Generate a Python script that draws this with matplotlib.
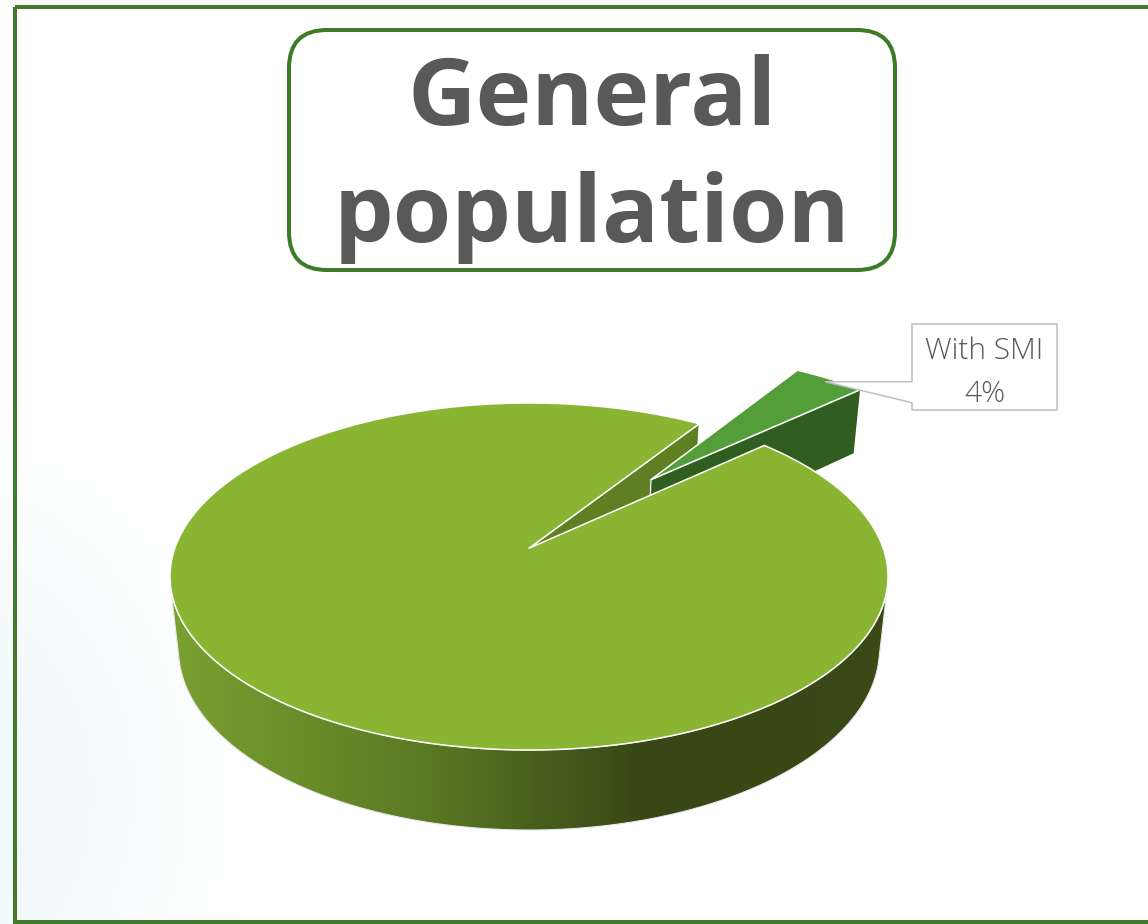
import numpy as np
import matplotlib
matplotlib.use("Agg")
import matplotlib.pyplot as plt
from matplotlib.patches import Polygon, FancyBboxPatch, Rectangle

# ---- data -------------------------------------------------------------
categories = ["Without SMI", "With SMI"]
shares = [96, 4]
explode = [0.0, 0.57]
label_lines = ["With SMI", "4%"]
title_lines = ["General", "population"]

# ---- colours ----------------------------------------------------------
top_colors = ["#8AB532", "#549E3A"]
cut_colors = ["#5F7F22", "#305E20"]
frame_green = "#437A2B"
text_grey = "#595959"

W, H = 1148, 924
fig = plt.figure(figsize=(W / 100, H / 100), dpi=100)
ax = fig.add_axes([0, 0, 1, 1])
ax.set_xlim(0, W)
ax.set_ylim(H, 0)
ax.axis("off")

# soft pale haze in the lower-left corner
yy, xx = np.mgrid[0:H, 0:W]
d = np.hypot((xx + 60) / 1.0, (yy - 790) / 1.25)
alpha = 0.75 * np.clip(1 - d / 320.0, 0, 1) ** 1.2
haze = np.zeros((H, W, 4))
haze[..., :3] = np.array([230, 243, 247]) / 255.0
haze[..., 3] = alpha
ax.imshow(haze, extent=(0, W, H, 0), zorder=0, interpolation="bilinear")

# ---- 3-D pie projection ----------------------------------------------
phi = np.radians(30)
cphi, sphi = np.cos(phi), np.sin(phi)
Dist = 6.14 * cphi


def proj(u, v, z):
    depth = Dist + v * cphi - z * sphi
    return u / depth, (v * sphi + z * cphi) / depth


th = np.linspace(0, 2 * np.pi, 4000)
Xr, Yr = proj(np.cos(th), np.sin(th), 0.0)
X0, X1, Y0, Y1 = Xr.min(), Xr.max(), Yr.min(), Yr.max()
px_left, px_right, px_top, px_bottom = 170.0, 888.0, 403.0, 750.0


def P(u, v, z):
    X, Y = proj(np.asarray(u, float), np.asarray(v, float), z)
    px = px_left + (X - X0) / (X1 - X0) * (px_right - px_left)
    py = px_bottom - (Y - Y0) / (Y1 - Y0) * (px_bottom - px_top)
    return px, py


# pie thickness: front rim drops to y = 830
lo, hi = 0.0, 2.0
for _ in range(60):
    mid = 0.5 * (lo + hi)
    if P(0.0, -1.0, -mid)[1] < 830:
        lo = mid
    else:
        hi = mid
h = 0.5 * (lo + hi)

spans = 360.0 * np.array(shares) / sum(shares)
start_smi = 42.5
angles = {
    1: (start_smi, start_smi + spans[1]),
    0: (start_smi + spans[1], start_smi + 360.0),
}
offsets = {}
for i in (0, 1):
    a0, a1 = angles[i]
    m = np.radians(0.5 * (a0 + a1))
    offsets[i] = (explode[i] * np.cos(m), explode[i] * np.sin(m))


def arc(i, z, a0=None, a1=None, n=500):
    A0, A1 = angles[i]
    a0 = A0 if a0 is None else a0
    a1 = A1 if a1 is None else a1
    t = np.radians(np.linspace(a0, a1, n))
    tu, tv = offsets[i]
    return P(tu + np.cos(t), tv + np.sin(t), z)


def cut_face(i, ang):
    tu, tv = offsets[i]
    a = np.radians(ang)
    pts = [P(tu, tv, 0.0), P(tu + np.cos(a), tv + np.sin(a), 0.0),
           P(tu + np.cos(a), tv + np.sin(a), -h), P(tu, tv, -h)]
    return np.array([[float(x), float(y)] for x, y in pts])


# main wedge cut face (faces the gap)
ax.add_patch(Polygon(cut_face(0, angles[0][0]), closed=True,
                     facecolor=cut_colors[0], edgecolor="white", lw=0.9, zorder=2))
# exploded wedge cut face
ax.add_patch(Polygon(cut_face(1, angles[1][0]), closed=True,
                     facecolor=cut_colors[1], edgecolor="white", lw=0.9, zorder=3))

# main wedge outer rim: visible where the cylinder faces the viewer
lim = np.degrees(np.arcsin(1.0 / (Dist * cphi)))
r0, r1 = 180.0 + lim, 360.0 - lim
tx, ty = arc(0, 0.0, r0, r1)
bx, by = arc(0, -h, r0, r1)
rim = np.column_stack([np.concatenate([tx, bx[::-1]]), np.concatenate([ty, by[::-1]])])
rim_patch = Polygon(rim, closed=True, facecolor="none", edgecolor="#E8E8E8", lw=0.8, zorder=4)
ax.add_patch(rim_patch)

# horizontal shading of the rim
gx = np.linspace(150, 910, 760)
stops_x = [150, 175, 420, 640, 910]
stops_c = [(124, 163, 50), (122, 160, 49), (92, 122, 36), (55, 72, 22), (58, 75, 24)]
grad = np.zeros((2, len(gx), 3))
for k in range(3):
    grad[:, :, k] = np.interp(gx, stops_x, [c[k] for c in stops_c]) / 255.0
img = ax.imshow(grad, extent=(150, 910, 880, 520), aspect="auto", zorder=3.5,
                interpolation="bilinear")
img.set_clip_path(rim_patch)

# top faces
for i, z in ((1, 5), (0, 6)):
    tu, tv = offsets[i]
    cx, cy = P(tu, tv, 0.0)
    ax_, ay_ = arc(i, 0.0)
    poly = np.column_stack([np.concatenate([[cx], ax_]), np.concatenate([[cy], ay_])])
    ax.add_patch(Polygon(poly, closed=True, facecolor=top_colors[i],
                         edgecolor="white", lw=1.1, joinstyle="round", zorder=z))

# ---- data label callout ----------------------------------------------
a0, a1 = angles[1]
mr = np.radians(0.5 * (a0 + a1))
tu, tv = offsets[1]
tipx, tipy = P(tu + 0.97 * np.cos(mr), tv + 0.97 * np.sin(mr), 0.0)
tipx, tipy = float(tipx), float(tipy)
bx0, by0, bx1, by1 = 912, 324, 1057, 410
callout = np.array([[bx0, by0], [bx1, by0], [bx1, by1], [bx0, by1],
                    [bx0, tipy + 21], [tipx, tipy], [bx0, tipy]])
ax.add_patch(Polygon(callout, closed=True, facecolor="white", edgecolor="#BFBFBF",
                     lw=1.1, zorder=8))
lx = 0.5 * (bx0 + bx1)
ax.text(lx, 359, label_lines[0], ha="center", va="baseline", fontsize=21.5,
        family="Open Sans", weight="light", color=text_grey, zorder=9)
ax.text(lx, 402, label_lines[1], ha="center", va="baseline", fontsize=21.5,
        family="Open Sans", weight="light", color=text_grey, zorder=9)

# ---- title -------------------------------------------------------------
ax.add_patch(FancyBboxPatch((289, 30), 606, 240,
                            boxstyle="round,pad=0,rounding_size=38",
                            facecolor="white", edgecolor="#3E7B27", lw=2.9, zorder=8))
ax.text(592, 125, title_lines[0], ha="center", va="baseline", fontsize=68,
        family="Open Sans", weight="bold", color=text_grey, zorder=9)
ax.text(592, 242, title_lines[1], ha="center", va="baseline", fontsize=68,
        family="Open Sans", weight="bold", color=text_grey, zorder=9)

# outer frame
ax.add_patch(Rectangle((15, 7), W + 40, 915, facecolor="none",
                       edgecolor=frame_green, lw=2.9, zorder=10))

fig.savefig("out.png", dpi=100)
